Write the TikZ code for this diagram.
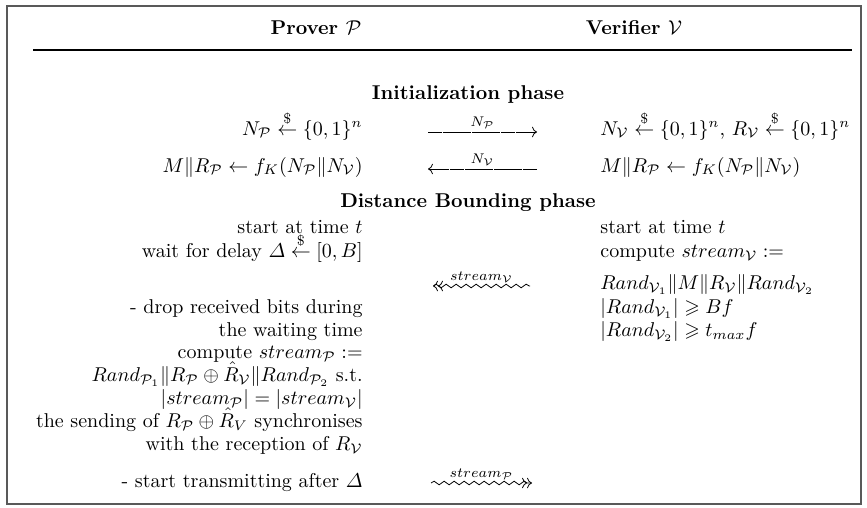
\documentclass[tikz,border=0pt]{standalone}
\usepackage{amsmath}
\usepackage{amssymb}
\usetikzlibrary{arrows.meta,decorations.pathmorphing}

\newcommand{\Pcal}{\mathcal{P}}
\newcommand{\Vcal}{\mathcal{V}}
\newcommand{\rndfrom}{\overset{\$}{\leftarrow}}

\begin{document}
\begin{tikzpicture}[
  x=0.5pt,
  y=-0.5pt,
  proverside/.style={anchor=base east, inner sep=0pt},
  verifierside/.style={anchor=base west, inner sep=0pt},
  phasetitle/.style={anchor=base, inner sep=0pt, font=\bfseries},
  msgarrow/.style={-{Computer Modern Rightarrow}, line width=0.4pt, dash pattern=on 7pt off 0.3pt},
  wavyarrow/.style={
    >={Computer Modern Rightarrow},
    line width=0.4pt,
    decorate,
    decoration={snake, amplitude=0.9pt, segment length=5pt}
  },
  msglabel/.style={above, inner sep=1.5pt, font=\scriptsize}
]
\useasboundingbox (0,0) rectangle (867,508);
\draw[line width=0.9pt, black!65] (7,6) rectangle (861,504);

% header
\node[font=\bfseries, anchor=base] (prover) at (316,35) {Prover $\Pcal$};
\node[font=\bfseries, anchor=base] (verifier) at (634,35) {Verifier $\Vcal$};
\coordinate (rulel) at (33,50);
\coordinate (ruler) at (852,50);
\draw[line width=0.6pt] (rulel) -- (ruler);

% initialization
\node[phasetitle] (initphase) at (468,100) {Initialization phase};
\node[proverside] (pnonce) at (363,135) {$N_{\Pcal} \rndfrom \{0,1\}^n$};
\node[verifierside] (vnonce) at (600,135) {$N_{\Vcal} \rndfrom \{0,1\}^n$, $R_{\Vcal} \rndfrom \{0,1\}^n$};
\node[proverside] (pkey) at (363,172) {$M \| R_{\Pcal} \leftarrow f_K(N_{\Pcal} \| N_{\Vcal})$};
\node[verifierside] (vkey) at (600,172) {$M \| R_{\Pcal} \leftarrow f_K(N_{\Pcal} \| N_{\Vcal})$};
\coordinate (npl) at (428,132);
\coordinate (npr) at (537,132);
\coordinate (nvl) at (428,169);
\coordinate (nvr) at (537,169);
\draw[msgarrow] (npl) -- node[msglabel] {$N_{\Pcal}$} (npr);
\draw[msgarrow] (nvr) -- node[msglabel] {$N_{\Vcal}$} (nvl);

% distance bounding
\node[phasetitle] (dbphase) at (468,207) {Distance Bounding phase};
\node[proverside] (pstart) at (363,233) {start at time $t$};
\node[verifierside] (vstart) at (600,233) {start at time $t$};
\node[proverside] (pwait) at (363,257) {wait for delay $\varDelta \rndfrom [0,B]$};
\node[verifierside] (vcomp) at (600,257) {compute $stream_{\Vcal} :=$};
\node[verifierside] (vstream) at (600,289) {$Rand_{\Vcal_1} \| M \| R_{\Vcal} \| Rand_{\Vcal_2}$};
\node[proverside] (pdrop) at (363,313) {- drop received bits during};
\node[verifierside] (vlen1) at (600,313) {$|Rand_{\Vcal_1}| \geqslant Bf$};
\node[proverside] (pwaiting) at (363,336) {the waiting time};
\node[verifierside] (vlen2) at (600,336) {$|Rand_{\Vcal_2}| \geqslant t_{max} f$};
\node[proverside] (pcomp) at (363,358) {compute $stream_{\Pcal} :=$};
\node[proverside] (pstream) at (363,381) {$Rand_{\Pcal_1} \| R_{\Pcal} \oplus \hat{R}_{\Vcal} \| Rand_{\Pcal_2}$ s.t.};
\node[proverside] (plen) at (363,404) {$|stream_{\Pcal}| = |stream_{\Vcal}|$};
\node[proverside] (psend) at (363,427) {the sending of $R_{\Pcal} \oplus \hat{R}_V$\ synchronises};
\node[proverside] (precv) at (363,450) {with the reception of $R_{\Vcal}$};
\node[proverside] (ptrans) at (363,487) {- start transmitting after $\varDelta$};
\coordinate (svl) at (433,286);
\coordinate (svr) at (530,286);
\coordinate (spl) at (431,483);
\coordinate (spr) at (532,483);
\draw[wavyarrow, <<-] (svl) -- (svr);
\path (svl) -- node[msglabel] {$stream_{\Vcal}$} (svr);
\draw[wavyarrow, ->>] (spl) -- (spr);
\path (spl) -- node[msglabel] {$stream_{\Pcal}$} (spr);
\end{tikzpicture}
\end{document}
